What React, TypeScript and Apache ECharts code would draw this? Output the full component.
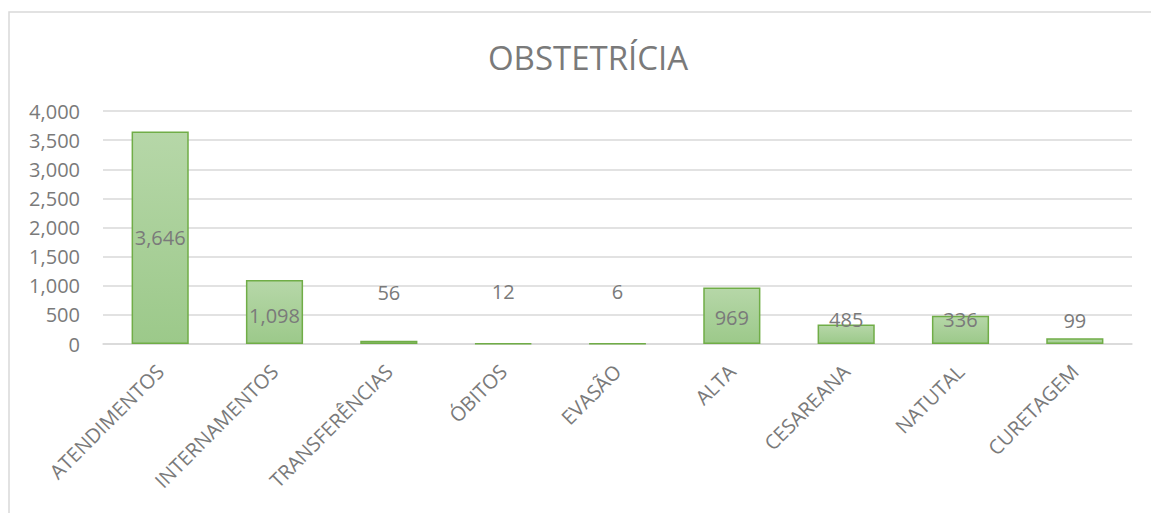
import React, { useEffect, useRef } from "react";
import * as echarts from "echarts";

const titleText = "OBSTETRÍCIA";
const categories = [
  "ATENDIMENTOS",
  "INTERNAMENTOS",
  "TRANSFERÊNCIAS",
  "ÓBITOS",
  "EVASÃO",
  "ALTA",
  "CESAREANA",
  "NATUTAL",
  "CURETAGEM",
];
// bar heights as drawn in the reference
const barValues = [3646, 1098, 56, 12, 6, 969, 336, 485, 99];
// data label texts as shown in the reference
const labelValues = [3646, 1098, 56, 12, 6, 969, 485, 336, 99];
const yMin = 0;
const yMax = 4000;
const yStep = 500;

// label placement style per bar (inside vs above with offset)
const labelPlacement: { pos: string; dy: number }[] = [
  { pos: "inside", dy: 0 },
  { pos: "inside", dy: 3 },
  { pos: "top", dy: -38 },
  { pos: "top", dy: -41 },
  { pos: "top", dy: -42 },
  { pos: "inside", dy: 2 },
  { pos: "top", dy: 5 },
  { pos: "top", dy: 14 },
  { pos: "top", dy: -8 },
];

const FONT = "'Open Sans', 'Noto Sans', sans-serif";
const TEXT = "#7a7a7a";

export default function App() {
  const ref = useRef<HTMLDivElement>(null);
  useEffect(() => {
    if (!ref.current) return;
    const chart = echarts.init(ref.current, null, { renderer: "svg" });
    const fmt = (v: number) => v.toLocaleString("en-US");
    chart.setOption({
      animation: false,
      backgroundColor: "#ffffff",
      textStyle: { fontFamily: FONT },
      title: {
        text: titleText,
        left: 583,
        top: 36,
        textAlign: "center",
        textStyle: { fontFamily: FONT, fontSize: 33, fontWeight: "normal", color: TEXT },
      },
      graphic: [
        {
          type: "rect",
          shape: { x: 9, y: 12, width: 1200, height: 600 },
          style: { fill: "none", stroke: "#d9d9d9", lineWidth: 1.5 },
          silent: true,
        },
      ],
      grid: { left: 103, right: 19, top: 111, bottom: 169, containLabel: false },
      xAxis: {
        type: "category",
        data: categories,
        axisLine: { show: true, lineStyle: { color: "#d9d9d9", width: 1.5 } },
        axisTick: { show: false },
        axisLabel: {
          rotate: 45,
          interval: 0,
          margin: 24,
          color: TEXT,
          fontFamily: FONT,
          fontSize: 20,
        },
      },
      yAxis: {
        type: "value",
        min: yMin,
        max: yMax,
        interval: yStep,
        axisLine: { show: false },
        axisTick: { show: false },
        splitLine: { lineStyle: { color: "#d9d9d9", width: 1.5 } },
        axisLabel: {
          color: TEXT,
          fontFamily: FONT,
          fontSize: 20,
          margin: 23,
          formatter: (v: number) => fmt(v),
        },
      },
      series: [
        {
          type: "bar",
          barWidth: "50%",
          data: barValues.map((v, i) => ({
            value: v,
            label: {
              show: true,
              position: labelPlacement[i].pos,
              distance: 0,
              offset: [0, labelPlacement[i].dy],
              formatter: () => fmt(labelValues[i]),
              color: TEXT,
              fontFamily: FONT,
              fontSize: 20,
            },
          })),
          itemStyle: {
            color: new echarts.graphic.LinearGradient(0, 0, 0, 1, [
              { offset: 0, color: "#b6d7a8" },
              { offset: 1, color: "#9cc98a" },
            ]),
            borderColor: "#70ad47",
            borderWidth: 1.5,
          },
        },
      ],
    });
    return () => chart.dispose();
  }, []);
  return (
    <div
      ref={ref}
      style={{ position: "fixed", left: 0, top: 0, width: 1151, height: 513 }}
    />
  );
}
